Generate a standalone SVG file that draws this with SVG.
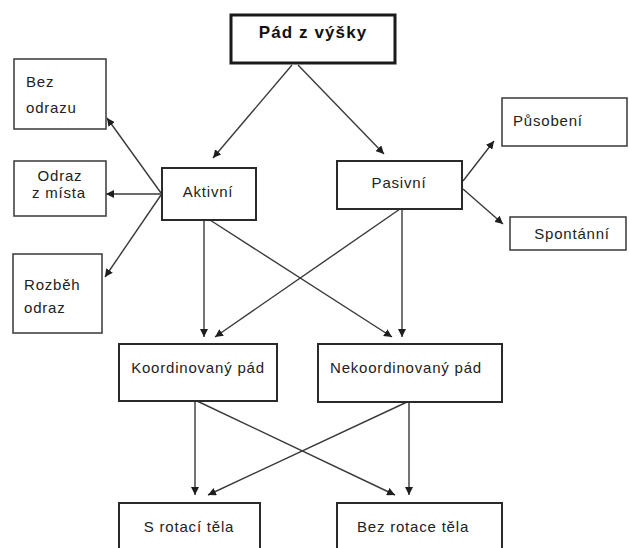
<svg xmlns="http://www.w3.org/2000/svg" width="629" height="548" viewBox="0 0 629 548">
<defs>
<marker id="ah" markerUnits="userSpaceOnUse" markerWidth="9" markerHeight="8" refX="8" refY="4" orient="auto">
<path d="M0,0 L8,4 L0,8 Z" fill="#1e1e1e"/>
</marker>
<style>
.box{fill:#fff;stroke:#2a2a2a;stroke-width:2}
.thin{fill:#fff;stroke:#444;stroke-width:1.6}
.t{font-family:"Liberation Sans",Arial,sans-serif;font-size:15px;letter-spacing:0.8px;fill:#222}
.c{text-anchor:middle}
.title{font-family:"Liberation Sans",Arial,sans-serif;font-size:17px;font-weight:bold;letter-spacing:1.1px;fill:#111;text-anchor:middle}
.ln{stroke:#3a3a3a;stroke-width:1.4;fill:none;marker-end:url(#ah)}
</style>
</defs>
<rect width="629" height="548" fill="#fff"/>
<g id="connectors">
<line class="ln" x1="292" y1="65" x2="213" y2="158"/>
<line class="ln" x1="298" y1="65" x2="384" y2="154"/>
<line class="ln" x1="161" y1="193" x2="107" y2="118"/>
<line class="ln" x1="161" y1="194" x2="106" y2="194"/>
<line class="ln" x1="161" y1="195" x2="105" y2="277"/>
<line class="ln" x1="463" y1="181" x2="494" y2="141"/>
<line class="ln" x1="463" y1="189" x2="503" y2="224"/>
<line class="ln" x1="204" y1="220" x2="204" y2="337"/>
<line class="ln" x1="210" y1="220" x2="392" y2="337"/>
<line class="ln" x1="400" y1="209" x2="215" y2="337"/>
<line class="ln" x1="402" y1="209" x2="402" y2="337"/>
<line class="ln" x1="195" y1="401" x2="195" y2="495"/>
<line class="ln" x1="197" y1="401" x2="395" y2="495"/>
<line class="ln" x1="407" y1="402" x2="208" y2="495"/>
<line class="ln" x1="409" y1="402" x2="409" y2="495"/>
</g>
<g id="pad-z-vysky">
<rect x="231" y="15" width="164" height="48" fill="#fff" stroke="#1a1a1a" stroke-width="3"/>
<text class="title" x="313" y="38">Pád z výšky</text>
</g>
<g id="bez-odrazu">
<rect class="thin" x="14" y="59" width="92" height="70"/>
<text class="t" x="26" y="87">Bez</text>
<text class="t" x="26" y="113">odrazu</text>
</g>
<g id="odraz-z-mista">
<rect class="thin" x="14" y="161" width="92" height="55"/>
<text class="t c" x="60" y="181">Odraz</text>
<text class="t c" x="59" y="198">z místa</text>
</g>
<g id="rozbeh-odraz">
<rect class="thin" x="13" y="254" width="89" height="79"/>
<text class="t" x="24" y="290">Rozběh</text>
<text class="t" x="24" y="313">odraz</text>
</g>
<g id="aktivni">
<rect class="box" x="162" y="168" width="94" height="52"/>
<text class="t c" x="208" y="197">Aktivní</text>
</g>
<g id="pasivni">
<rect class="box" x="337" y="161" width="125" height="48"/>
<text class="t c" x="399" y="188">Pasivní</text>
</g>
<g id="pusobeni">
<rect class="thin" x="502" y="98" width="125" height="48"/>
<text class="t" x="513" y="126">Působení</text>
</g>
<g id="spontanni">
<rect class="thin" x="510" y="217" width="116" height="33"/>
<text class="t c" x="572" y="239">Spontánní</text>
</g>
<g id="koordinovany-pad">
<rect class="box" x="119" y="344" width="158" height="57"/>
<text class="t c" x="198" y="373">Koordinovaný pád</text>
</g>
<g id="nekoordinovany-pad">
<rect class="box" x="318" y="344" width="184" height="58"/>
<text class="t c" x="406" y="373">Nekoordinovaný pád</text>
</g>
<g id="s-rotaci-tela">
<rect class="box" x="119" y="503" width="141" height="60"/>
<text class="t c" x="189" y="532">S rotací těla</text>
</g>
<g id="bez-rotace-tela">
<rect class="box" x="337" y="503" width="165" height="60"/>
<text class="t c" x="413" y="532">Bez rotace těla</text>
</g>
</svg>
